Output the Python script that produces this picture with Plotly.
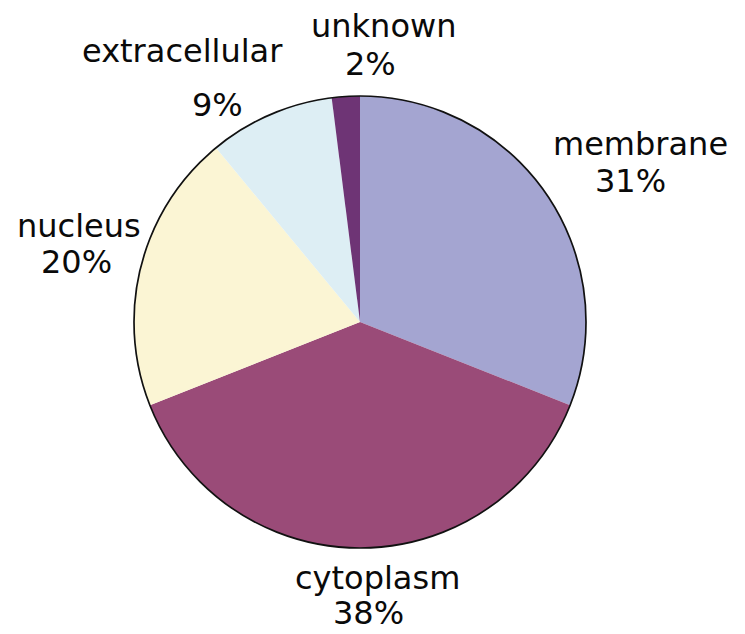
import plotly.graph_objects as go

labels = ["membrane", "cytoplasm", "nucleus", "extracellular", "unknown"]
values = [31, 38, 20, 9, 2]
colors = ["#A4A5D1", "#9A4B78", "#FBF5D4", "#DDEEF4", "#6E3475"]

W, H = 745, 634
OFF = 8  # page body margin compensation
cx, cy, r = 360 - OFF, 322 - OFF, 226
dom_x = [(cx - r) / W, (cx + r) / W]
dom_y = [(H - cy - r) / H, (H - cy + r) / H]

# label placement (pixel centres of the name line and the percent line, page coords)
name_pos = [(640, 144), (377, 578), (79, 226), (182, 51), (383, 26)]
pct_pos = [(630, 181), (368, 613), (76, 262), (217, 105), (370, 64)]

fig = go.Figure()
fig.add_trace(go.Pie(
    labels=labels, values=values, sort=False, direction="clockwise", rotation=0,
    marker=dict(colors=colors, line=dict(width=0)),
    textinfo="none", domain=dict(x=dom_x, y=dom_y), showlegend=False,
    hoverinfo="label+percent",
))
fig.add_trace(go.Pie(
    values=[1], labels=["outline"], sort=False,
    marker=dict(colors=["rgba(0,0,0,0)"], line=dict(width=1.7, color="#111111")),
    textinfo="none", hoverinfo="skip", showlegend=False,
    domain=dict(x=dom_x, y=dom_y),
))

font = dict(family="DejaVu Sans", size=32, color="#0a0a0a")
for lab, val, (nx, ny), (px, py) in zip(labels, values, name_pos, pct_pos):
    fig.add_annotation(text=lab, x=(nx - OFF) / W, y=1 - (ny - OFF) / H,
                       xref="paper", yref="paper", xanchor="center", yanchor="middle",
                       showarrow=False, font=font)
    fig.add_annotation(text=f"{val}%", x=(px - OFF) / W, y=1 - (py - OFF) / H,
                       xref="paper", yref="paper", xanchor="center", yanchor="middle",
                       showarrow=False, font=font)

fig.update_layout(
    width=W, height=H, margin=dict(l=0, r=0, t=0, b=0),
    paper_bgcolor="white", plot_bgcolor="white",
    font=dict(family="DejaVu Sans"),
)
fig.write_html("out.html")
